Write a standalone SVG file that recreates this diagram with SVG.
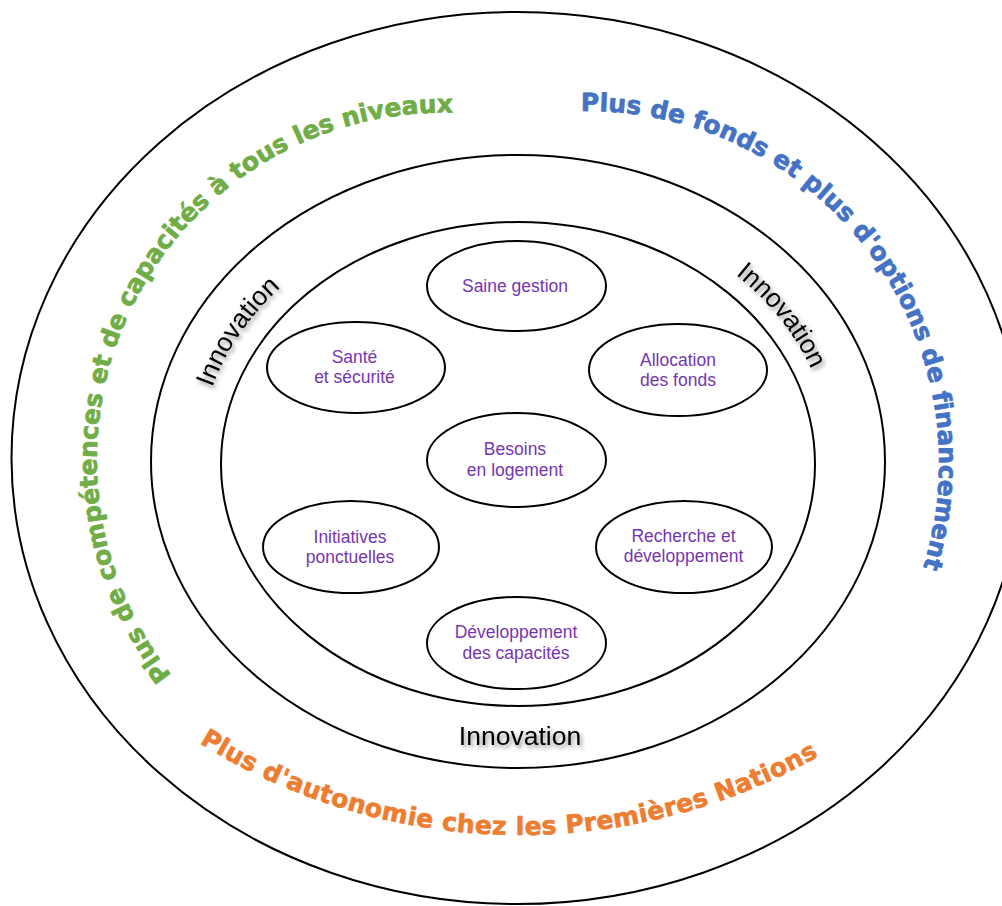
<svg xmlns="http://www.w3.org/2000/svg" xmlns:xlink="http://www.w3.org/1999/xlink" width="1002" height="906" viewBox="0 0 1002 906">
<style>
.ring{fill:none;stroke:#000;stroke-width:2}
.node{fill:#fff;stroke:#000;stroke-width:2}
.lbl{font-family:"Liberation Sans",Arial,sans-serif;font-size:17.5px;fill:#7636ad;text-anchor:middle}
.inno{font-family:"Liberation Sans",Arial,sans-serif;font-size:26.5px;fill:#000}
.arc{font-family:"DejaVu Sans",Verdana,sans-serif;font-weight:bold;font-size:25px;stroke-width:0.7;stroke-linejoin:round;font-variant-ligatures:none;font-feature-settings:"liga" 0}
</style>
<defs>
<filter id="sh" x="-20%" y="-40%" width="140%" height="180%">
<feGaussianBlur in="SourceAlpha" stdDeviation="2"/>
<feOffset dx="2" dy="3" result="b"/>
<feComponentTransfer><feFuncA type="linear" slope="0.45"/></feComponentTransfer>
<feMerge><feMergeNode/><feMergeNode in="SourceGraphic"/></feMerge>
</filter>
<path id="pGreen" d="M171.9,675.1 A347,347 0 0 1 531.3,123.8"/>
<path id="pBlue" d="M580.9,111.1 A352,352 0 0 1 906.0,611.8"/>
<path id="pOrange" d="M199.4,743.0 A605,605 0 0 0 867.0,725.6"/>
<path id="pInnoL" d="M203.1,420.6 A312,259 0 0 1 307.3,265.9"/>
<path id="pInnoR" d="M706.6,254.3 A312,259 0 0 1 823.6,402.4"/>
</defs>
<rect width="1002" height="906" fill="#fff"/>
<g id="rings">
<ellipse class="ring" cx="517" cy="458" rx="505.5" ry="446"/>
<ellipse class="ring" cx="518" cy="461.5" rx="367" ry="306.5"/>
<ellipse class="ring" cx="518" cy="464" rx="297" ry="242"/>
</g>
<g id="outer-labels" class="arc">
<text fill="#70ad47" stroke="#70ad47" letter-spacing="0"><textPath xlink:href="#pGreen" href="#pGreen">Plus de compétences et de capacités à tous les niveaux</textPath></text>
<text fill="#4472c4" stroke="#4472c4" letter-spacing="0"><textPath xlink:href="#pBlue" href="#pBlue">Plus de fonds et plus d'options de financement</textPath></text>
<text fill="#ed7d31" stroke="#ed7d31" letter-spacing="0.35"><textPath xlink:href="#pOrange" href="#pOrange">Plus d'autonomie chez les Premières Nations</textPath></text>
</g>
<g id="innovation" class="inno" filter="url(#sh)">
<text text-anchor="middle"><textPath xlink:href="#pInnoL" href="#pInnoL" startOffset="50%">Innovation</textPath></text>
<text text-anchor="middle"><textPath xlink:href="#pInnoR" href="#pInnoR" startOffset="50%">Innovation</textPath></text>
<text x="520" y="745" text-anchor="middle">Innovation</text>
</g>
<g id="n-saine">
<ellipse class="node" cx="516.5" cy="286" rx="89.5" ry="45"/>
<text class="lbl" x="515" y="291.5">Saine gestion</text>
</g>
<g id="n-sante">
<ellipse class="node" cx="356" cy="367.5" rx="89" ry="45.5"/>
<text class="lbl" x="354.5" y="362.5">Santé</text>
<text class="lbl" x="354.5" y="383">et sécurité</text>
</g>
<g id="n-allocation">
<ellipse class="node" cx="678" cy="370" rx="89" ry="46"/>
<text class="lbl" x="678" y="365.5">Allocation</text>
<text class="lbl" x="678" y="386">des fonds</text>
</g>
<g id="n-besoins">
<ellipse class="node" cx="516.5" cy="460" rx="89.5" ry="47"/>
<text class="lbl" x="515" y="455">Besoins</text>
<text class="lbl" x="515" y="475.5">en logement</text>
</g>
<g id="n-initiatives">
<ellipse class="node" cx="351" cy="547" rx="88" ry="46"/>
<text class="lbl" x="350" y="542.5">Initiatives</text>
<text class="lbl" x="350" y="563">ponctuelles</text>
</g>
<g id="n-recherche">
<ellipse class="node" cx="684" cy="547" rx="88" ry="46"/>
<text class="lbl" x="683.5" y="541.5">Recherche et</text>
<text class="lbl" x="683.5" y="562">développement</text>
</g>
<g id="n-developpement">
<ellipse class="node" cx="516.5" cy="643" rx="89.5" ry="46"/>
<text class="lbl" x="516" y="638">Développement</text>
<text class="lbl" x="516" y="658.5">des capacités</text>
</g>
<g id="connectors"></g>
</svg>
